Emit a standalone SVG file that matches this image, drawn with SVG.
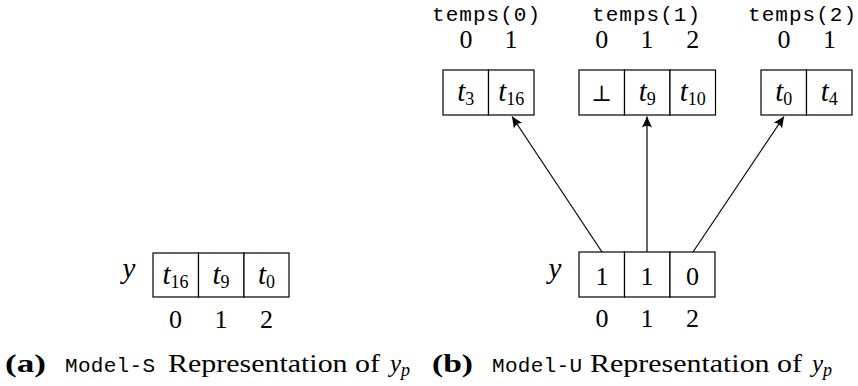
<svg xmlns="http://www.w3.org/2000/svg" width="858" height="386" viewBox="0 0 858 386">
<defs>
<style>
.cell{fill:#fff;stroke:#000;stroke-width:1.2}
.m{font-family:"Liberation Serif",serif;font-size:26px;fill:#000}
.i{font-style:italic}
.t{font-style:italic;font-size:29px}
.sub{font-size:18px}
.tt{font-family:"Liberation Mono",monospace;font-size:21px;fill:#000}
.cap{font-family:"Liberation Serif",serif;font-size:25px;fill:#000}
.b{font-weight:bold}
.con{stroke:#000;stroke-width:1.2;fill:none}
</style>
<marker id="ah" markerUnits="userSpaceOnUse" markerWidth="14" markerHeight="12" viewBox="-12 -6 14 12" refX="0" refY="0" orient="auto">
<path d="M0,0 L-11,-5 Q-7.5,0 -11,5 Z" fill="#000"/>
</marker>
</defs>

<g id="array-s">
<rect class="cell" x="153" y="253" width="45.5" height="44"/>
<rect class="cell" x="198.5" y="253" width="45.5" height="44"/>
<rect class="cell" x="244" y="253" width="45" height="44"/>
<text class="m t" x="129" y="278" text-anchor="middle">y</text>
<text class="m" x="175.5" y="284" text-anchor="middle"><tspan class="t">t</tspan><tspan class="sub" dy="4">16</tspan></text>
<text class="m" x="221" y="284" text-anchor="middle"><tspan class="t">t</tspan><tspan class="sub" dy="4">9</tspan></text>
<text class="m" x="266.5" y="284" text-anchor="middle"><tspan class="t">t</tspan><tspan class="sub" dy="4">0</tspan></text>
<text class="m" x="175.5" y="328" text-anchor="middle">0</text>
<text class="m" x="221" y="328" text-anchor="middle">1</text>
<text class="m" x="266.5" y="328" text-anchor="middle">2</text>
</g>

<g id="array-u">
<rect class="cell" x="579" y="252" width="45.5" height="45"/>
<rect class="cell" x="624.5" y="252" width="45.5" height="45"/>
<rect class="cell" x="670" y="252" width="45" height="45"/>
<text class="m t" x="555" y="278" text-anchor="middle">y</text>
<text class="m" x="602" y="285" text-anchor="middle">1</text>
<text class="m" x="647" y="285" text-anchor="middle">1</text>
<text class="m" x="692.5" y="285" text-anchor="middle">0</text>
<text class="m" x="602" y="327" text-anchor="middle">0</text>
<text class="m" x="647" y="327" text-anchor="middle">1</text>
<text class="m" x="692.5" y="327" text-anchor="middle">2</text>
</g>

<g id="temps0">
<text class="tt" x="432" y="21" textLength="108" lengthAdjust="spacing">temps(0)</text>
<text class="m" x="466" y="48" text-anchor="middle">0</text>
<text class="m" x="511" y="48" text-anchor="middle">1</text>
<rect class="cell" x="443" y="70" width="45.5" height="45"/>
<rect class="cell" x="488.5" y="70" width="45.5" height="45"/>
<text class="m" x="465.75" y="101" text-anchor="middle"><tspan class="t">t</tspan><tspan class="sub" dy="4">3</tspan></text>
<text class="m" x="511.25" y="101" text-anchor="middle"><tspan class="t">t</tspan><tspan class="sub" dy="4">16</tspan></text>
</g>

<g id="temps1">
<text class="tt" x="592" y="21" textLength="108" lengthAdjust="spacing">temps(1)</text>
<text class="m" x="601.75" y="48" text-anchor="middle">0</text>
<text class="m" x="647" y="48" text-anchor="middle">1</text>
<text class="m" x="692.75" y="48" text-anchor="middle">2</text>
<rect class="cell" x="579" y="70" width="45.5" height="45"/>
<rect class="cell" x="624.5" y="70" width="45.5" height="45"/>
<rect class="cell" x="670" y="70" width="45.5" height="45"/>
<text x="601.75" y="101" text-anchor="middle" style="font-family:'DejaVu Serif',serif;font-size:22px">⊥</text>
<text class="m" x="647.25" y="101" text-anchor="middle"><tspan class="t">t</tspan><tspan class="sub" dy="4">9</tspan></text>
<text class="m" x="692.75" y="101" text-anchor="middle"><tspan class="t">t</tspan><tspan class="sub" dy="4">10</tspan></text>
</g>

<g id="temps2">
<text class="tt" x="748" y="21" textLength="108" lengthAdjust="spacing">temps(2)</text>
<text class="m" x="784" y="48" text-anchor="middle">0</text>
<text class="m" x="829.5" y="48" text-anchor="middle">1</text>
<rect class="cell" x="761" y="70" width="45.5" height="45"/>
<rect class="cell" x="806.5" y="70" width="45.5" height="45"/>
<text class="m" x="783.75" y="101" text-anchor="middle"><tspan class="t">t</tspan><tspan class="sub" dy="4">0</tspan></text>
<text class="m" x="829.25" y="101" text-anchor="middle"><tspan class="t">t</tspan><tspan class="sub" dy="4">4</tspan></text>
</g>

<g id="connectors">
<line class="con" x1="602" y1="252" x2="512" y2="116.5" marker-end="url(#ah)"/>
<line class="con" x1="647" y1="252" x2="647" y2="116.5" marker-end="url(#ah)"/>
<line class="con" x1="693" y1="252" x2="784" y2="116.5" marker-end="url(#ah)"/>
</g>

<g id="caption-a">
<text class="cap b" x="5" y="372" textLength="41" lengthAdjust="spacingAndGlyphs">(a)</text>
<text class="tt" x="65" y="372" textLength="90" lengthAdjust="spacing">Model-S</text>
<text class="cap" x="168" y="372" textLength="212" lengthAdjust="spacingAndGlyphs">Representation of</text>
<text class="cap" x="390" y="372"><tspan class="i">y</tspan><tspan class="sub i" dy="4">p</tspan></text>
</g>

<g id="caption-b">
<text class="cap b" x="432" y="372" textLength="41" lengthAdjust="spacingAndGlyphs">(b)</text>
<text class="tt" x="492" y="372" textLength="90" lengthAdjust="spacing">Model-U</text>
<text class="cap" x="590" y="372" textLength="212" lengthAdjust="spacingAndGlyphs">Representation of</text>
<text class="cap" x="812" y="372"><tspan class="i">y</tspan><tspan class="sub i" dy="4">p</tspan></text>
</g>
</svg>
